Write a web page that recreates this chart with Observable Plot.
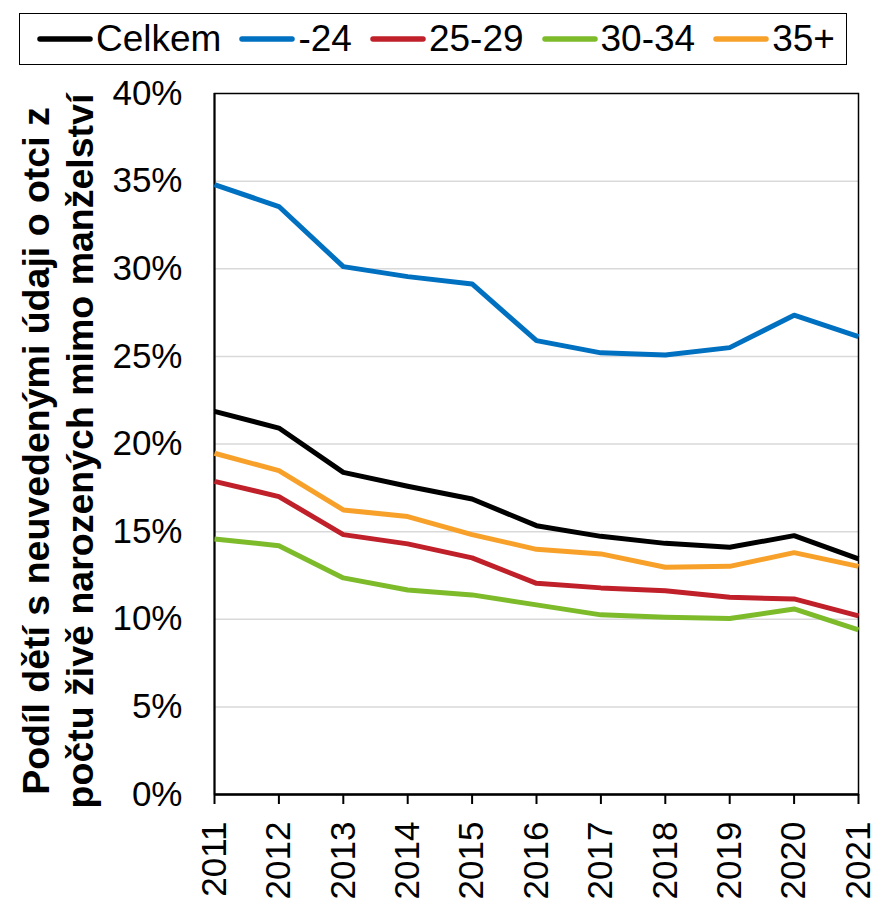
<!DOCTYPE html>
<html>
<head>
<meta charset="utf-8">
<script src="https://cdn.jsdelivr.net/npm/d3@7"></script>
<script src="https://cdn.jsdelivr.net/npm/@observablehq/plot@0.6"></script>
<style>
  html, body { margin: 0; padding: 0; background: #fff; }
  #wrap { position: relative; width: 874px; height: 901px; font-family: "Liberation Sans", Arial, sans-serif; }
  #legend { position: absolute; left: 19px; top: 12.5px; width: 828px; height: 52px; box-sizing: border-box;
    border: 1.5px solid #000; display: flex; align-items: center; padding-left: 17px; font-size: 37px; color: #000;
    background: #fff; white-space: nowrap; overflow: visible; }
  #legend .item { display: flex; align-items: center; margin-right: 18px; flex-shrink: 0; white-space: nowrap; }
  #legend svg { display: block; margin-right: 3px; flex-shrink: 0; }
  #chart { position: absolute; left: 0; top: 0; }
</style>
</head>
<body>
<div id="wrap">
  <div id="chart"></div>
  <div id="legend"></div>
</div>
<script>
const years = [2011, 2012, 2013, 2014, 2015, 2016, 2017, 2018, 2019, 2020, 2021];
const seriesNames = ["Celkem", "-24", "25-29", "30-34", "35+"];
const seriesColors = ["#000000", "#0070C0", "#C0202A", "#7DBB2B", "#F8A12A"];
const celkem = [21.86, 20.91, 18.38, 17.59, 16.86, 15.34, 14.73, 14.33, 14.11, 14.77, 13.44];
const age24 = [34.8, 33.55, 30.12, 29.55, 29.13, 25.9, 25.2, 25.08, 25.5, 27.35, 26.13];
const age2529 = [17.87, 17.0, 14.83, 14.30, 13.50, 12.05, 11.79, 11.63, 11.25, 11.16, 10.19];
const age3034 = [14.58, 14.2, 12.36, 11.67, 11.39, 10.82, 10.25, 10.11, 10.04, 10.59, 9.39];
const age35 = [19.47, 18.48, 16.24, 15.86, 14.83, 13.99, 13.73, 12.97, 13.02, 13.80, 13.02];
const yTicks = [0, 5, 10, 15, 20, 25, 30, 35, 40];
const yTitle = "Podíl dětí s neuvedenými údaji o otci z\npočtu živě narozených mimo manželství";

const seriesValues = [celkem, age24, age2529, age3034, age35];
const rows = [];
seriesNames.forEach((name, i) => {
  years.forEach((yr, j) => rows.push({series: name, year: yr, value: seriesValues[i][j]}));
});

const lineMarks = seriesNames.map((name, i) =>
  Plot.line(rows.filter(r => r.series === name), {
    x: "year", y: "value", stroke: seriesColors[i], strokeWidth: 5,
    strokeLinejoin: "round", strokeLinecap: "butt"
  })
);

const chart = Plot.plot({
  width: 874,
  height: 901,
  marginTop: 93,
  marginBottom: 107,
  marginLeft: 214,
  marginRight: 16,
  style: {fontFamily: "'Liberation Sans', Arial, sans-serif", fontSize: "35px", color: "#000", background: "#fff", overflow: "visible"},
  x: {domain: [2011, 2021]},
  y: {domain: [0, 40]},
  marks: [
    Plot.gridY(yTicks.filter(d => d > 0 && d < 40), {stroke: "#d9d9d9", strokeOpacity: 1, strokeWidth: 1.5}),
    Plot.frame({stroke: "#000", strokeWidth: 1.5}),
    Plot.ruleX([2011], {stroke: "#000", strokeWidth: 2}),
    Plot.axisY({ticks: yTicks, tickFormat: d => d + "%", tickSize: 0, tickPadding: 32, fontSize: 35, label: null}),
    Plot.axisX({ticks: years, tickFormat: d => String(d), tickSize: 10, tickRotate: -90, tickPadding: 17, fontSize: 35, label: null, strokeWidth: 2}),
    ...lineMarks,
    Plot.ruleY([0], {stroke: "#000", strokeWidth: 2.5}),
    Plot.text([yTitle], {
      text: d => d, frameAnchor: "left", textAnchor: "middle", rotate: -90, dx: -197, dy: 7,
      lineAnchor: "top", lineHeight: 1.17, fontWeight: "bold", fontSize: 37.5, fill: "#000"
    })
  ]
});
document.getElementById("chart").appendChild(chart);

const legend = document.getElementById("legend");
seriesNames.forEach((name, i) => {
  const item = document.createElement("div");
  item.className = "item";
  item.innerHTML = `<svg width="56" height="10"><line x1="3" y1="5" x2="53" y2="5" stroke="${seriesColors[i]}" stroke-width="5.5" stroke-linecap="round"/></svg><span>${name}</span>`;
  legend.appendChild(item);
});
</script>
</body>
</html>
